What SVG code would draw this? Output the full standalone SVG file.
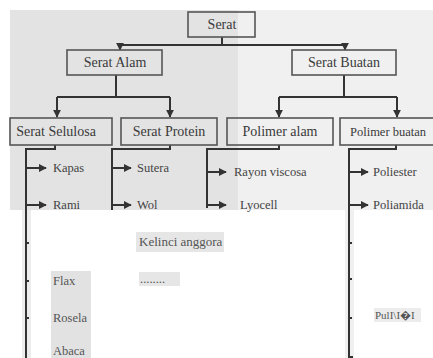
<svg xmlns="http://www.w3.org/2000/svg" width="433" height="358" viewBox="0 0 433 358">
<style>
.box{fill:none;stroke:#555;stroke-width:1.6}
.ln{fill:none;stroke:#333;stroke-width:2}
text{font-family:"Liberation Serif","Times New Roman",serif}
.t1{font-size:14px;fill:#3a3a3a;text-anchor:middle}
.t2{font-size:12.5px;fill:#444}
.t3{font-size:12.5px;fill:#555}
</style>
<defs>
<marker id="ah" viewBox="0 0 10 10" refX="9" refY="5" markerWidth="4" markerHeight="4" orient="auto" markerUnits="strokeWidth">
<path d="M0,0 L10,5 L0,10 z" fill="#333"/>
</marker>
</defs>
<rect width="433" height="358" fill="#fff"/>
<rect x="10" y="10" width="228" height="200" fill="#e3e3e3"/>
<rect x="238" y="10" width="195" height="200" fill="#f0f0f0"/>
<rect x="22" y="210" width="9" height="148" fill="#ececec"/>
<rect x="345" y="210" width="9" height="148" fill="#f0f0f0"/>
<rect x="51" y="271" width="40" height="87" fill="#e2e2e2"/>
<rect x="136" y="232" width="88" height="20" fill="#e6e6e6"/>
<rect x="139" y="272" width="41" height="14" fill="#e6e6e6"/>
<rect x="374" y="308" width="47" height="14" fill="#ececec"/>
<g id="connectors">
<path class="ln" d="M222,37 V45 M120,45 H345"/>
<path class="ln" d="M120,45 V50" marker-end="url(#ah)"/>
<path class="ln" d="M345,45 V50" marker-end="url(#ah)"/>
<path class="ln" d="M116,75 V97 M57,97 H170"/>
<path class="ln" d="M57,97 V117" marker-end="url(#ah)"/>
<path class="ln" d="M170,97 V117" marker-end="url(#ah)"/>
<path class="ln" d="M344,75 V97 M279,97 H397"/>
<path class="ln" d="M279,97 V117" marker-end="url(#ah)"/>
<path class="ln" d="M397,97 V117" marker-end="url(#ah)"/>
<path class="ln" d="M55,145 V149 H26 V358"/>
<path class="ln" d="M26,168 H46" marker-end="url(#ah)"/>
<path class="ln" d="M26,205 H46" marker-end="url(#ah)"/>
<path class="ln" d="M26,243 H29 M26,281 H29 M26,318 H29"/>
<path class="ln" d="M170,145 V149 H112 V210"/>
<path class="ln" d="M112,168 H131" marker-end="url(#ah)"/>
<path class="ln" d="M112,205 H131" marker-end="url(#ah)"/>
<path class="ln" d="M279,145 V149 H207 V208"/>
<path class="ln" d="M207,172 H226" marker-end="url(#ah)"/>
<path class="ln" d="M207,205 H226" marker-end="url(#ah)"/>
<path class="ln" d="M396,145 V149 H349 V357 H353"/>
<path class="ln" d="M349,172 H368" marker-end="url(#ah)"/>
<path class="ln" d="M349,205 H368" marker-end="url(#ah)"/>
<path class="ln" d="M349,243 H352 M349,279 H352 M349,318 H352"/>
</g>
<g id="serat"><rect class="box" x="188" y="12" width="67" height="25"/><text class="t1" x="222" y="29">Serat</text></g>
<g id="serat-alam"><rect class="box" x="67" y="50" width="95" height="25"/><text class="t1" x="115" y="67">Serat Alam</text></g>
<g id="serat-buatan"><rect class="box" x="292" y="50" width="104" height="25"/><text class="t1" x="344" y="67">Serat Buatan</text></g>
<g id="serat-selulosa"><rect class="box" x="10" y="118" width="102" height="27"/><text class="t1" x="56" y="136">Serat Selulosa</text></g>
<g id="serat-protein"><rect class="box" x="121" y="118" width="96" height="27"/><text class="t1" x="169" y="136">Serat Protein</text></g>
<g id="polimer-alam"><rect class="box" x="227" y="118" width="106" height="27"/><text class="t1" x="280" y="136">Polimer alam</text></g>
<g id="polimer-buatan"><rect class="box" x="340" y="118" width="100" height="27"/><text class="t1" x="350" y="136" style="text-anchor:start;font-size:12.5px">Polimer buatan</text></g>
<g id="items">
<text class="t2" x="53" y="172">Kapas</text>
<text class="t2" x="53" y="209">Rami</text>
<text class="t2" x="137" y="172">Sutera</text>
<text class="t2" x="137" y="209">Wol</text>
<text class="t2" x="234" y="176">Rayon viscosa</text>
<text class="t2" x="240" y="209">Lyocell</text>
<text class="t2" x="373" y="176">Poliester</text>
<text class="t2" x="373" y="209">Poliamida</text>
<text class="t3" x="139" y="246" style="font-size:13px">Kelinci anggora</text>
<text class="t3" x="140" y="283">........</text>
<text class="t3" x="53" y="285">Flax</text>
<text class="t3" x="53" y="322">Rosela</text>
<text class="t3" x="53" y="355">Abaca</text>
<text class="t3" x="375" y="319" style="font-size:11px">PulI\I�I</text>
</g>
</svg>
